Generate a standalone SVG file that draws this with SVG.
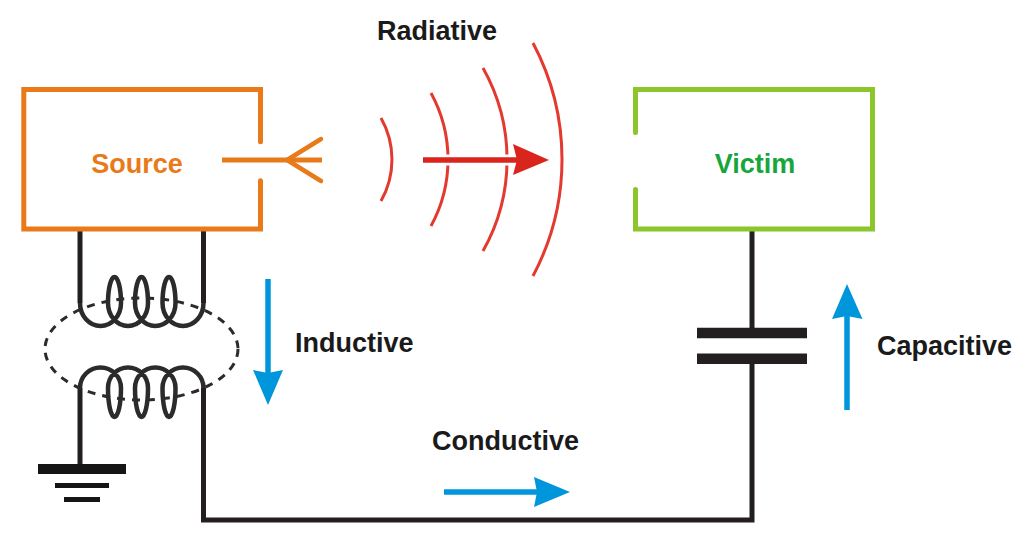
<svg xmlns="http://www.w3.org/2000/svg" width="1024" height="549" viewBox="0 0 1024 549">
<style>
.t{font-family:"Liberation Sans",Arial,sans-serif;font-weight:700;font-size:27px;fill:#1a1a1a}
.k{fill:none;stroke:#231f20;stroke-width:5}
.c{fill:none;stroke:#2b2b2b;stroke-width:4.500}
.o{fill:none;stroke:#e97a1a;stroke-width:5;stroke-linecap:round}
.g{fill:none;stroke:#8cc62a;stroke-width:5;stroke-linecap:round}
.r{fill:none;stroke:#e3392f;stroke-width:3}
.b{stroke:#0096dc;stroke-width:5.500;fill:none}
.bh{fill:#0096dc}
</style>
<rect width="1024" height="549" fill="#fff"/>
<g id="connectors">
<path class="k" d="M80 231V303"/>
<path class="c" d="M80 303A20.500 23 0 0 0 121 303A6.500 26 0 0 0 108 303A20 23 0 0 0 148 303A6.500 26 0 0 0 135 303A20.250 23 0 0 0 175.500 303A6.500 26 0 0 0 162.500 303A20.500 23 0 0 0 203.500 303"/>
<path class="k" d="M203.500 303V231"/>
<path class="k" d="M80 464V388"/>
<path class="c" d="M80 388A20.500 20.500 0 0 1 121 388A6.500 29 0 0 1 108 388A20 20.500 0 0 1 148 388A6.500 29 0 0 1 135 388A20.250 20.500 0 0 1 175.500 388A6.500 29 0 0 1 162.500 388A20.500 20.500 0 0 1 203.500 388"/>
<path class="k" d="M203.500 388V520H752V361"/>
<path class="k" d="M752 231V330"/>
<path d="M697 333H807M697 358.700H807" fill="none" stroke="#231f20" stroke-width="10.500"/>
<path d="M38 469H126" fill="none" stroke="#151515" stroke-width="10"/>
<path d="M55 485.500H109M64 499.500H100" fill="none" stroke="#151515" stroke-width="5"/>
<ellipse cx="141.500" cy="349" rx="96.500" ry="51" fill="none" stroke="#2b2b2b" stroke-width="3" stroke-dasharray="8 7"/>
<path class="r" d="M381 118A84 84 0 0 1 381 201M431 93A138.500 138.500 0 0 1 431 226M483 68A186 186 0 0 1 483 251M533 43A248.500 248.500 0 0 1 533 276"/>
<path d="M423 160H516" fill="none" stroke="#fff" stroke-width="11"/>
<path d="M423 160H518" fill="none" stroke="#da251c" stroke-width="5.500"/>
<path d="M513 144L549 160L513 175L517 160Z" fill="#da251c"/>
<path class="b" d="M268 279V373"/><path class="bh" d="M253 370L268 373L283 370L268 405Z"/>
<path class="b" d="M847 410V316"/><path class="bh" d="M832 319L847 316L862.500 319L847 284Z"/>
<path class="b" d="M444 492H537"/><path class="bh" d="M534 477L537 492L534 507L570 492Z"/>
</g>
<g id="source">
<path class="o" d="M260.500 141.800V89.500H23.800V229H260.500V180.800"/>
<path class="o" d="M222 160H322" stroke-linecap="butt" style="stroke-linecap:butt"/>
<path class="o" style="stroke-width:4.500" d="M321 139L287 160L321 181"/>
<text class="t" x="137" y="172.500" text-anchor="middle" style="fill:#e97a1a">Source</text>
</g>
<g id="victim">
<path class="g" d="M635.500 132.500V89.500H872.500V229H635.500V189.500"/>
<text class="t" x="755" y="172.500" text-anchor="middle" style="fill:#17a63c">Victim</text>
</g>
<g id="labels">
<text class="t" x="437" y="39.500" text-anchor="middle">Radiative</text>
<text class="t" x="295" y="351.500">Inductive</text>
<text class="t" x="877" y="354.500">Capacitive</text>
<text class="t" x="432" y="450">Conductive</text>
</g>
</svg>
